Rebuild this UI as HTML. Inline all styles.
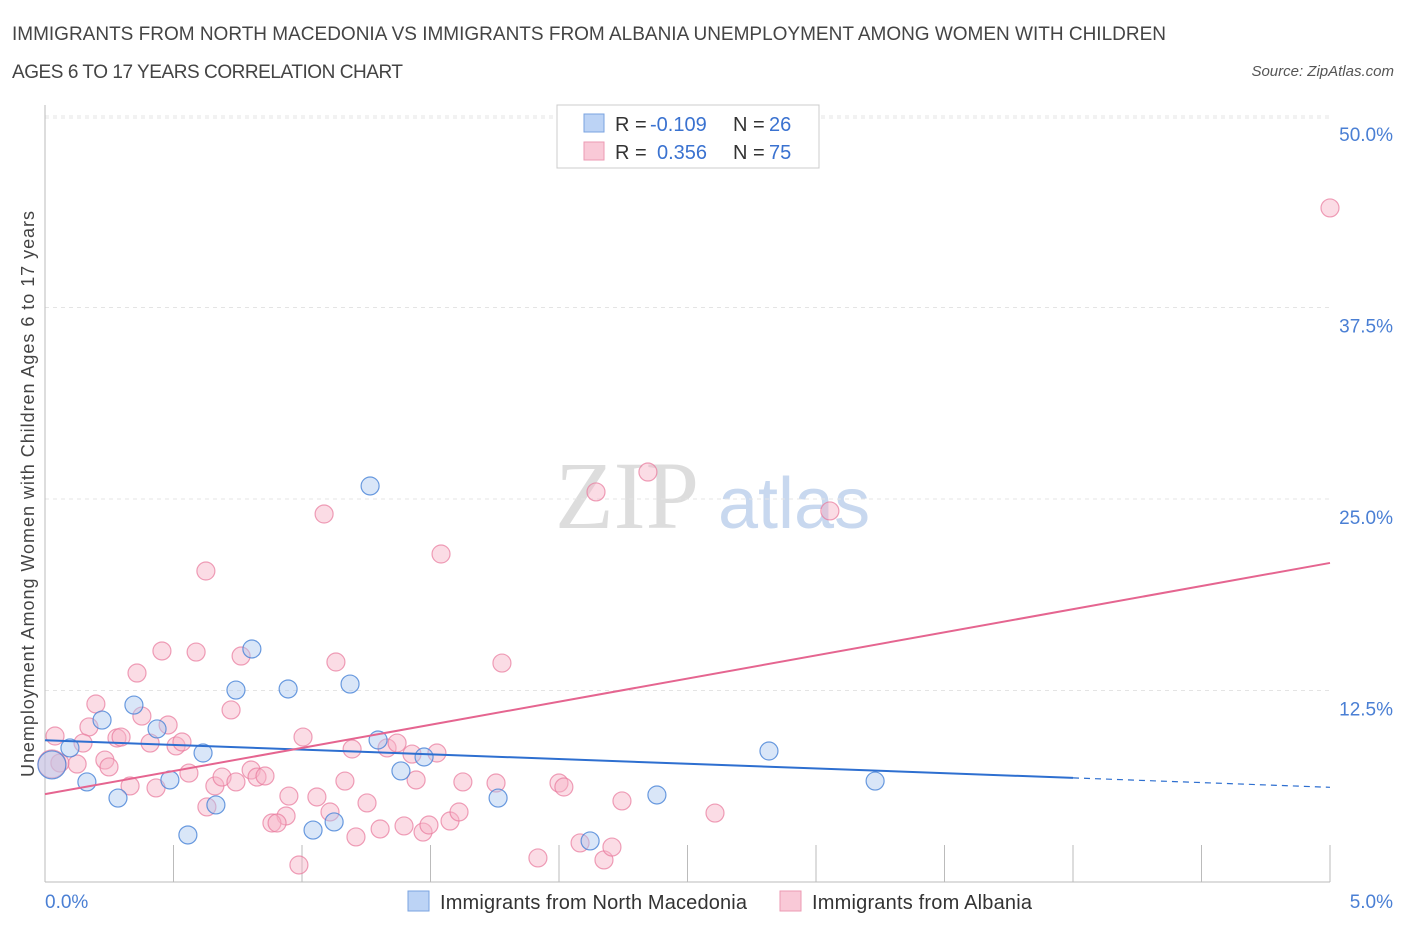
<!DOCTYPE html>
<html><head><meta charset="utf-8"><style>
body{margin:0;background:#fff;font-family:"Liberation Sans",sans-serif;}
</style></head><body>
<svg id="chart" width="1406" height="930" xmlns="http://www.w3.org/2000/svg" font-family="Liberation Sans, sans-serif">
<text x="12" y="40" font-size="19" fill="#444" textLength="1154">IMMIGRANTS FROM NORTH MACEDONIA VS IMMIGRANTS FROM ALBANIA UNEMPLOYMENT AMONG WOMEN WITH CHILDREN</text>
<text x="12" y="78" font-size="19" fill="#444" textLength="391">AGES 6 TO 17 YEARS CORRELATION CHART</text>
<text x="1394" y="76" font-size="15" fill="#555" font-style="italic" text-anchor="end">Source: ZipAtlas.com</text>
<text x="555" y="528" font-size="96" fill="#ddd" font-family="Liberation Serif, serif">ZIP</text>
<text x="718" y="528" font-size="72" fill="#c8d8ef">atlas</text>
<text transform="translate(34,494) rotate(-90)" font-size="18" fill="#444" text-anchor="middle" textLength="566">Unemployment Among Women with Children Ages 6 to 17 years</text>
<g id="grid"></g><g id="axes"></g><g id="marks"></g><g id="lines"></g>
<g>
<rect x="557" y="105" width="262" height="63" fill="#fff" stroke="#ccc"/>
<rect x="584" y="114" width="20" height="18" fill="#bcd3f5" stroke="#7aa3e0"/>
<text x="615" y="131" font-size="20" fill="#333">R =</text>
<text x="650" y="131" font-size="20" fill="#3a72d0">-0.109</text>
<text x="733" y="131" font-size="20" fill="#333">N =</text>
<text x="769" y="131" font-size="20" fill="#3a72d0">26</text>
<rect x="584" y="142" width="20" height="18" fill="#f9c9d7" stroke="#ec9ab3"/>
<text x="615" y="159" font-size="20" fill="#333">R =</text>
<text x="657" y="159" font-size="20" fill="#3a72d0">0.356</text>
<text x="733" y="159" font-size="20" fill="#333">N =</text>
<text x="769" y="159" font-size="20" fill="#3a72d0">75</text>
</g>
<g>
<rect x="408" y="891" width="21" height="20" fill="#bcd3f5" stroke="#7aa3e0"/>
<text x="440" y="909" font-size="20" fill="#333" textLength="307">Immigrants from North Macedonia</text>
<rect x="780" y="891" width="21" height="20" fill="#f9c9d7" stroke="#ec9ab3"/>
<text x="812" y="909" font-size="20" fill="#333" textLength="220">Immigrants from Albania</text>
</g>
</svg>
<script>
const yTicks=[12.5,25,37.5,50];
const yTickLabels=["12.5%","25.0%","37.5%","50.0%"];
const xTickLabels=["0.0%","5.0%"];
const blueX=[0.027,0.097,0.163,0.222,0.284,0.346,0.436,0.486,0.556,0.615,0.665,0.743,0.805,0.946,1.043,1.125,1.187,1.265,1.296,1.385,1.475,1.763,2.121,2.381,2.817,3.230];
const blueY=[7.64,8.75,6.53,10.57,5.48,11.55,9.99,6.66,3.07,8.42,5.03,12.53,15.21,12.60,3.39,3.92,12.92,25.85,9.27,7.25,8.16,5.48,2.68,5.68,8.55,6.59];
const pinkX=[5.0,2.346,2.144,3.054,1.086,1.541,0.626,0.455,0.588,0.763,0.358,1.132,1.778,0.724,0.198,0.171,0.148,0.039,0.280,0.296,0.377,0.479,0.409,0.510,0.533,0.233,0.249,0.125,0.058,0.331,0.432,0.560,0.661,0.689,0.743,0.802,0.825,0.856,0.630,0.949,1.004,1.058,1.109,0.938,0.883,0.903,0.988,1.195,1.167,1.253,1.210,1.304,1.331,1.370,1.428,1.525,1.444,1.397,1.471,1.494,1.576,1.611,1.626,1.755,2.000,2.019,1.918,2.082,2.175,2.206,2.245,2.607,0.027];
const pinkY=[44.0,26.76,25.46,24.22,24.02,21.41,20.30,15.08,15.01,14.75,13.64,14.36,14.29,11.23,11.62,10.12,9.07,9.53,9.40,9.46,10.83,10.25,9.07,8.88,9.14,7.96,7.51,7.70,7.77,6.27,6.14,7.11,6.27,6.85,6.53,7.31,6.85,6.92,4.90,5.61,9.46,5.55,4.57,4.31,3.85,3.85,1.11,8.68,6.59,5.16,2.94,3.46,8.75,9.07,8.35,8.42,6.66,3.66,3.26,3.72,3.98,4.57,6.53,6.46,6.46,6.20,1.57,2.55,1.44,2.28,5.29,4.50,7.7];
const NS='http://www.w3.org/2000/svg';
const X0=45,X1=1330,Y0=882,Y50=116;
function sx(v){return X0+v/5*(X1-X0);}
function sy(v){return Y0-v/50*(Y0-Y50);}
function mk(tag,attrs,parent){const e=document.createElementNS(NS,tag);for(const k in attrs)e.setAttribute(k,attrs[k]);document.getElementById(parent).appendChild(e);return e;}
let g=mk('line',{x1:45,x2:1330,y1:118,y2:118,stroke:'#e4e4e4','stroke-dasharray':'4,4'},'grid');


yTicks.forEach((t,i)=>{
 const l=mk('line',{x1:45,x2:1330,y1:sy(t),y2:sy(t),stroke:'#e4e4e4','stroke-dasharray':'4,4'},'grid');
 
 
 const tx=mk('text',{x:1393,y:sy(t)+25,'font-size':19,fill:'#4a7fd4','text-anchor':'end'},'grid');
 tx.textContent=yTickLabels[i];
 
 
});
let a=mk('line',{x1:45,x2:45,y1:105,y2:882,stroke:'#bbb'},'axes');


a=mk('line',{x1:45,x2:1330,y1:882,y2:882,stroke:'#bbb'},'axes');


for(let i=1;i<=10;i++){
 const t=mk('line',{x1:sx(i*0.5),x2:sx(i*0.5),y1:845,y2:882,stroke:'#bbb'},'axes');
 
 
}
let xl=mk('text',{x:45,y:908,'font-size':19,fill:'#4a7fd4'},'axes');xl.textContent=xTickLabels[0];


xl=mk('text',{x:1393,y:908,'font-size':19,fill:'#4a7fd4','text-anchor':'end'},'axes');xl.textContent=xTickLabels[1];


function dots(xs,ys,fill,stroke,name){
 xs.forEach((x,i)=>{
  const big=(x<0.04&&Math.abs(ys[i]-7.7)<0.2);
  const c=mk('circle',{cx:sx(x),cy:sy(ys[i]),r:big?14:9,fill:fill,stroke:stroke,'stroke-width':1.2},'marks');
  
  
 });
}
dots(pinkX,pinkY,'rgba(246,178,198,0.45)','rgba(232,120,155,0.7)','albania-point');
dots(blueX,blueY,'rgba(170,200,240,0.45)','rgba(70,130,215,0.8)','north-macedonia-point');
function fit(xs,ys){const n=xs.length;let mx=0,my=0;xs.forEach((x,i)=>{mx+=x;my+=ys[i];});mx/=n;my/=n;let sxy=0,sxx=0;xs.forEach((x,i)=>{sxy+=(x-mx)*(ys[i]-my);sxx+=(x-mx)**2;});const b=sxy/sxx;return [my-b*mx,b];}
const [ba,bb]=fit(blueX,blueY);
let ln=mk('line',{x1:sx(0),y1:sy(ba),x2:sx(4),y2:sy(ba+bb*4),stroke:'#2e6fd0','stroke-width':2},'lines');


ln=mk('line',{x1:sx(4),y1:sy(ba+bb*4),x2:sx(5),y2:sy(ba+bb*5),stroke:'#2e6fd0','stroke-width':1.2,'stroke-dasharray':'6,5'},'lines');


const [pa,pb]=fit(pinkX,pinkY);
ln=mk('line',{x1:sx(0),y1:sy(pa),x2:sx(5),y2:sy(pa+pb*5),stroke:'#e56590','stroke-width':2},'lines');


</script>
</body></html>
